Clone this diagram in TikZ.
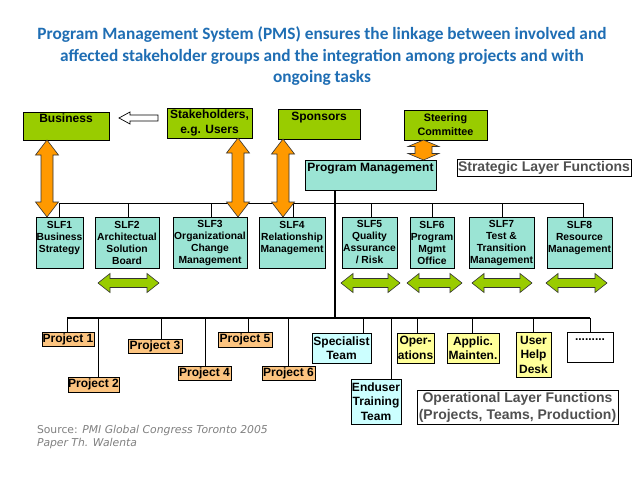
\documentclass[tikz,border=0pt]{standalone}
\usepackage{fontspec}
\setmainfont{Liberation Sans}
\newfontfamily\titlefont{Carlito}
\newfontfamily\srcfont{DejaVu Sans}
\usetikzlibrary{calc}
\definecolor{titleblue}{RGB}{31,110,180}
\definecolor{sgreen}{RGB}{153,204,0}
\definecolor{steal}{RGB}{155,228,212}
\definecolor{sorange}{RGB}{255,153,0}
\definecolor{sproj}{RGB}{252,196,128}
\definecolor{scyan}{RGB}{204,255,255}
\definecolor{syellow}{RGB}{255,255,153}
\definecolor{lgray}{RGB}{80,80,80}
\definecolor{srcgray}{RGB}{128,128,128}
\newcommand\fs[2]{\fontsize{#1}{#2}\selectfont}
\newcommand\bx[7]{\node[#6, minimum width={(#4)-(#2)}, minimum height={(#5)-(#3)}] (#1) at ({((#2)+(#4))/2},{((#3)+(#5))/2}) {#7};}
% vertical fat double arrow between two points: style, from, to, head half width, shaft half width, head length
\newcommand\fatv[6]{\draw[#1] let \p1=#2, \p2=#3 in
  (\x1,\y1) -- (\x1+#4pt,\y1-#6pt) -- (\x1+#5pt,\y1-#6pt) -- (\x1+#5pt,\y2+#6pt) -- (\x1+#4pt,\y2+#6pt) -- (\x1,\y2)
  -- (\x1-#4pt,\y2+#6pt) -- (\x1-#5pt,\y2+#6pt) -- (\x1-#5pt,\y1-#6pt) -- (\x1-#4pt,\y1-#6pt) -- cycle;}
% horizontal fat double arrow: x1, x2, y
\newcommand\fath[3]{\draw[garrow] (#1,#3) -- (#1+12,#3-9.5) -- (#1+12,#3-4.5) -- (#2-12,#3-4.5) -- (#2-12,#3-9.5) -- (#2,#3)
  -- (#2-12,#3+9.5) -- (#2-12,#3+4.5) -- (#1+12,#3+4.5) -- (#1+12,#3+9.5) -- cycle;}
\begin{document}
\begin{tikzpicture}[x=1pt,y=-1pt,
  every node/.style={inner sep=0pt, outer sep=0pt},
  box/.style={draw=black, line width=0.8pt, align=center, font=\bfseries\fs{12}{15}},
  gbox/.style={box, fill=sgreen},
  tbox/.style={box, fill=steal},
  slfbox/.style={box, fill=steal, font=\bfseries\fs{10.3}{12}},
  pbox/.style={box, fill=sproj},
  cbox/.style={box, fill=scyan, font=\bfseries\fs{12}{14.5}},
  ybox/.style={box, fill=syellow, font=\bfseries\fs{12}{14.5}},
  wbox/.style={box, fill=white},
  lbox/.style={box, fill=white, text=lgray, font=\bfseries\fs{14}{17}},
  oarrow/.style={draw=black!80, line width=0.6pt, fill=sorange},
  garrow/.style={draw=black!80, line width=0.6pt, fill=sgreen},
  conn/.style={draw=black, line width=0.8pt},
  thickconn/.style={draw=black, line width=2pt}
]
\useasboundingbox[fill=white] (0,0) rectangle (638,479);

% title
\node[font=\titlefont\bfseries\fs{17.3}{21.5}, text=titleblue, align=center] (title) at (322,56.5)
  {Program Management System (PMS) ensures the linkage between involved and\\
   affected stakeholder groups and the integration among projects and with\\
   ongoing tasks};

% top layer
\bx{biz}{23}{112}{109}{140}{gbox}{Business\\\phantom{B}}
\bx{stake}{167}{108}{252}{138}{gbox}{Stakeholders,\\e.g. Users}
\bx{spons}{278}{109}{360}{139}{gbox}{Sponsors\\\phantom{S}}
\bx{steer}{404}{110}{487}{140}{gbox,font=\bfseries\fs{10.8}{14}}{Steering\\Committee}
\bx{pm}{305}{160}{436}{190}{tbox}{Program Management\\\phantom{P}}
\bx{slflabel}{457}{159}{631}{176}{lbox}{Strategic Layer Functions}

% hollow arrow stakeholders -> business
\draw[line width=0.7pt, fill=white] (119,118) -- (130,112) -- (130,115) -- (158,115) -- (158,121) -- (130,121) -- (130,124) -- cycle;

% SLF boxes
\bx{slf1}{36}{217}{83}{268}{slfbox}{SLF1\\Business\\Strategy\\\phantom{S}}
\bx{slf2}{95}{217}{159}{268}{slfbox}{SLF2\\Architectual\\Solution\\Board}
\bx{slf3}{173}{217}{247}{268}{slfbox}{SLF3\\Organizational\\Change\\Management}
\bx{slf4}{259}{217}{325}{268}{slfbox}{SLF4\\Relationship\\Management\\\phantom{S}}
\bx{slf5}{342}{217}{397}{268}{slfbox}{SLF5\\Quality\\Assurance\\/ Risk}
\bx{slf6}{410}{217}{454}{268}{slfbox}{SLF6\\Program\\Mgmt\\Office}
\bx{slf7}{469}{217}{534}{268}{slfbox}{SLF7\\Test \&\\Transition\\Management}
\bx{slf8}{547}{217}{612}{268}{slfbox}{SLF8\\Resource\\Management\\\phantom{S}}

% strategic bus
\coordinate (sbL) at (59,203);
\coordinate (sbR) at (583,203);
\draw[conn] (sbL) -- (sbR);
\foreach \n/\dx in {slf1/0,slf2/1,slf3/1,slf4/1,slf5/1.5,slf6/0,slf7/0.5,slf8/3.5}{
  \draw[conn] ([xshift=\dx pt]\n.north) -- ([xshift=\dx pt]\n.north |- sbL);
}

% operational bus and PM trunk
\coordinate (obL) at (67,318);
\coordinate (obR) at (590,318);
\draw[conn, line width=1.3pt] ([xshift=-35.5pt]pm.south) -- ([xshift=-35.5pt]pm.south |- obL);
\draw[thickconn] (obL) -- (obR);

% operational boxes
\bx{p1}{42}{332}{94}{346}{pbox}{Project 1}
\bx{p2}{68}{377}{119}{392}{pbox}{Project 2}
\bx{p3}{128}{339}{182}{353}{pbox}{Project 3}
\bx{p4}{178}{366}{231}{380}{pbox}{Project 4}
\bx{p5}{218}{332}{272}{347}{pbox}{Project 5}
\bx{p6}{262}{366}{315}{380}{pbox}{Project 6}
\bx{spec}{312}{333}{371}{363}{cbox}{Specialist\\Team}
\bx{endu}{351}{379}{401}{424}{cbox}{Enduser\\Training\\Team}
\bx{oper}{397}{333}{434}{363}{ybox}{Oper-\\ations}
\bx{appl}{447}{333}{499}{363}{ybox}{Applic.\\Mainten.}
\bx{uhd}{516}{332}{551}{377}{ybox}{User\\Help\\Desk}
\bx{dots}{567}{332}{613}{362}{wbox}{.........\\\phantom{.}}
\bx{oplabel}{417}{390}{618}{424}{lbox}{Operational Layer Functions\\(Projects, Teams, Production)}

\foreach \n/\dx in {p1/-1,p2/4.5,p3/6,p4/0.5,p5/3,p6/-0.5,spec/21.5,endu/15,oper/1.5,appl/-1,uhd/-0.5,dots/0}{
  \draw[conn] ([xshift=\dx pt]\n.north) -- ([xshift=\dx pt]\n.north |- obL);
}

% orange double arrows
\fatv{oarrow}{([xshift=-19pt]biz.south)}{(slf1.north)}{11.5}{6}{15}
\fatv{oarrow}{([xshift=28.5pt]stake.south)}{(slf3.north)}{11.5}{6}{15}
\fatv{oarrow}{([xshift=-36pt]spons.south)}{(slf4.north)}{11.5}{6}{15}
\fatv{oarrow}{([xshift=-22pt]steer.south)}{([xshift=52.5pt]pm.north)}{15.5}{8.5}{6.5}

% green double arrows
\fath{98}{159}{283}
\fath{341}{400}{283}
\fath{407}{462}{283}
\fath{472}{532}{283}
\fath{546}{607}{283}

% source
\node[anchor=north west, font=\srcfont\fs{10.8}{13.5}, text=srcgray, align=left] (src) at (37,425)
  {Source: \textit{PMI Global Congress Toronto 2005}\\\textit{Paper Th. Walenta}};
\end{tikzpicture}
\end{document}
